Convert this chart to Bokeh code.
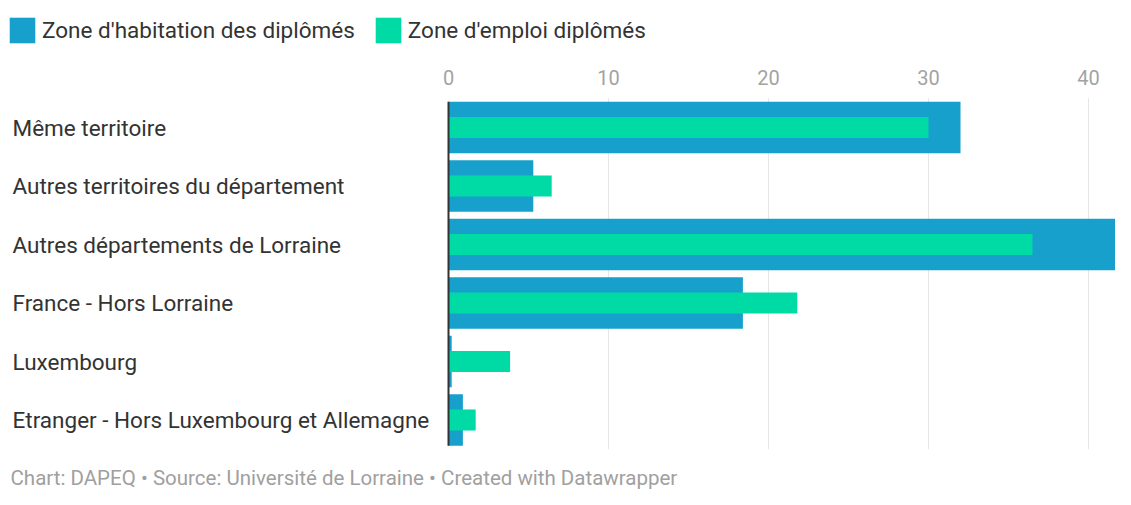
from bokeh.plotting import figure
from bokeh.models import Range1d, ColumnDataSource, Legend, LegendItem
from bokeh.embed import file_html
from bokeh.resources import INLINE
from bokeh.core.properties import value

categories = [
    "Même territoire",
    "Autres territoires du département",
    "Autres départements de Lorraine",
    "France - Hors Lorraine",
    "Luxembourg",
    "Etranger - Hors Luxembourg et Allemagne",
]
habitation = [32.0, 5.3, 43.2, 18.4, 0.2, 0.9]
emploi = [30.0, 6.45, 36.5, 21.8, 3.85, 1.7]
tick_values = [0, 10, 20, 30, 40]
tick_labels = ["0", "10", "20", "30", "40"]
series_names = ["Zone d'habitation des diplômés", "Zone d'emploi diplômés"]
footer_text = "Chart: DAPEQ • Source: Université de Lorraine • Created with Datawrapper"

BLUE = "#18a0cc"
GREEN = "#00dba6"
FONT = "Roboto"

W, H = 1115, 489
# layout (pixels): x zero line, pixels per unit, first band centre, band pitch
X0_PX, PX_PER_UNIT = 448, 16.0
Y0_PX, PITCH = 127.0, 58.5


def dx(px):
    return (px - X0_PX) / PX_PER_UNIT


def dy(py):
    return (py - Y0_PX) / PITCH


idx = list(range(len(categories)))
src = ColumnDataSource(dict(y=idx, cat=categories, hab=habitation, emp=emploi))

p = figure(width=W, height=H, output_backend="svg", toolbar_location=None,
           x_range=Range1d(dx(0), dx(W)), y_range=Range1d(dy(H), dy(0)),
           x_axis_location=None, y_axis_location=None,
           min_border=0, outline_line_color=None)
p.grid.visible = False

# grid lines (from tick values) spanning the bar area
grid_ticks = tick_values[1:]
p.segment(x0=grid_ticks, x1=grid_ticks, y0=[idx[0] - 0.5] * len(grid_ticks),
          y1=[idx[-1] + 0.5] * len(grid_ticks), line_color="#e6e6e6", line_width=1)

r_hab = p.hbar(y="y", right="hab", left=0, height=0.88, source=src,
               fill_color=BLUE, line_color=None)
r_emp = p.hbar(y="y", right="emp", left=0, height=0.36, source=src,
               fill_color=GREEN, line_color=None)

# zero baseline
p.segment(x0=[0], x1=[0], y0=[idx[0] - 0.44], y1=[idx[-1] + 0.44],
          line_color="#333333", line_width=2)

# top tick labels
p.text(x=tick_values, y=[dy(77)] * len(tick_values), text=tick_labels,
       text_font=value(FONT), text_font_size="20px", text_color="#a3a3a3",
       text_align="center", text_baseline="middle")

# category labels (left aligned)
p.text(x=dx(12), y="y", text="cat", source=src, text_font=value(FONT),
       text_font_size="22.5px", text_color="#333333", text_align="left",
       text_baseline="middle")

# footer
p.text(x=[dx(10)], y=[dy(477)], text=[footer_text], text_font=value(FONT),
       text_font_size="20.5px", text_color="#a0a0a0", text_align="left",
       text_baseline="middle")

legend = Legend(items=[LegendItem(label=series_names[0], renderers=[r_hab]),
                       LegendItem(label=series_names[1], renderers=[r_emp])],
                orientation="horizontal", location=(6, H - 46),
                glyph_width=32, glyph_height=32, label_standoff=4, spacing=17,
                padding=0, margin=0, border_line_color=None,
                background_fill_alpha=0, label_text_font=FONT,
                label_text_font_size="22.5px", label_text_color="#333333")
p.add_layout(legend)

open("out.html", "w").write(file_html(p, INLINE))
